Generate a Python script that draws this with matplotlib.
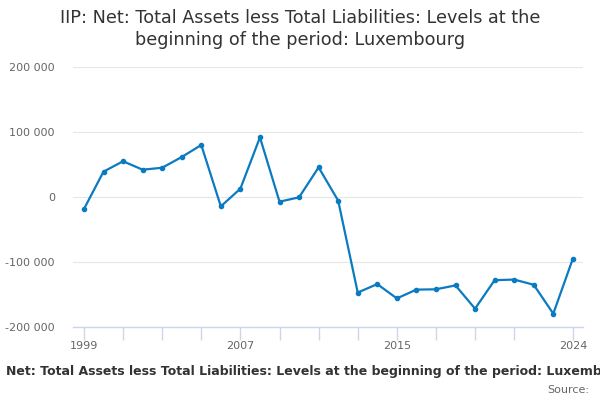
import matplotlib
matplotlib.use("Agg")
import matplotlib.pyplot as plt
from matplotlib.ticker import FuncFormatter

years = list(range(1999, 2025))
values = [-18500, 39000, 55000, 42000, 45000, 61500, 80000, -14400, 12800, 91800,
          -7200, -500, 45600, -5600, -147000, -134000, -156000, -142500, -142000,
          -136000, -171800, -128000, -127000, -135000, -179500, -95000]
tick_years = [1999, 2001, 2003, 2005, 2007, 2009, 2011, 2013, 2015, 2017, 2019, 2021, 2024]
label_years = [1999, 2007, 2015, 2024]
y_ticks = [-200000, -100000, 0, 100000, 200000]

title = "IIP: Net: Total Assets less Total Liabilities: Levels at the\nbeginning of the period: Luxembourg"
footer = "Net: Total Assets less Total Liabilities: Levels at the beginning of the period: Luxembourg"

fig = plt.figure(figsize=(6, 4), dpi=100)
ax = fig.add_axes([73 / 600, 1 - 327 / 400, 510 / 600, 260 / 400])

ax.plot(years, values, color="#0a7bc1", lw=1.6, marker="o", ms=3, zorder=3)

ax.set_xlim(1998.44, 2024.52)
ax.set_ylim(-200000, 200000)
ax.set_yticks(y_ticks)
ax.yaxis.set_major_formatter(FuncFormatter(lambda v, p: f"{int(v):,}".replace(",", " ")))
ax.grid(axis="y", color="#e6e6e6", lw=0.8)
ax.set_axisbelow(True)

ax.set_xticks(tick_years)
ax.set_xticklabels([str(y) if y in label_years else "" for y in tick_years])

for s in ["top", "right", "left"]:
    ax.spines[s].set_visible(False)
ax.spines["bottom"].set_color("#ccd6eb")
ax.spines["bottom"].set_linewidth(1)
ax.tick_params(axis="x", colors="#ccd6eb", length=9, width=1, labelcolor="#666666",
               labelsize=8, pad=1)
ax.tick_params(axis="y", length=0, labelcolor="#666666", labelsize=8, pad=13)

fig.text(0.5, 1 - 29 / 400, title, ha="center", va="center", fontsize=12.7,
         color="#333333", linespacing=1.3)
fig.text(6 / 600, 1 - 371 / 400, footer, ha="left", va="center", fontsize=9,
         fontweight="bold", color="#333333")
fig.text(589 / 600, 1 - 390 / 400, "Source:", ha="right", va="center", fontsize=8,
         color="#666666")

fig.savefig("out.png", dpi=100)
